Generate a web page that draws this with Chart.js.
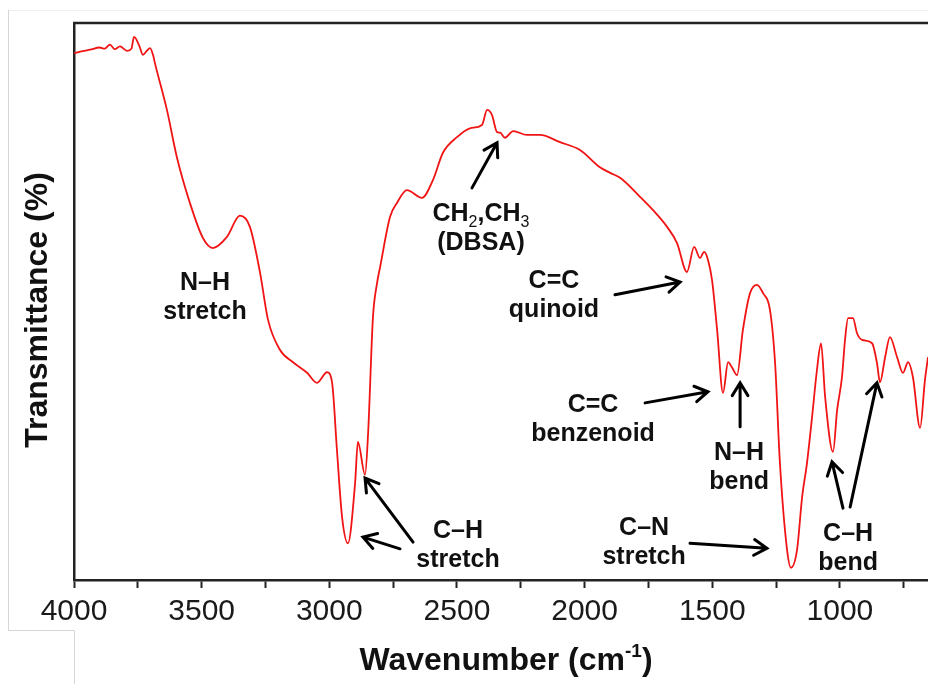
<!DOCTYPE html>
<html><head><meta charset="utf-8">
<script src="https://cdn.jsdelivr.net/npm/chart.js@4.4.1/dist/chart.umd.min.js"></script>
<style>html,body{margin:0;padding:0;background:#fff}#wrap{width:928px;height:684px;position:relative}</style>
</head><body><div id="wrap"><canvas id="c"></canvas></div>
<script>
// ---- data ----
const wavenumbers = [4000,3960,3937,3900,3880,3859,3840,3820,3792,3775,3765,3745,3730,3715,3702,3690,3683,3636,3597,3546,3495,3456,3401,3350,3311,3271,3240,3193,3142,3087,3048,3009,2989,2970,2950,2927,2899,2888,2860,2848,2829,2813,2801,2762,2735,2696,2637,2594,2555,2500,2449,2402,2382,2363,2343,2331,2312,2280,2226,2175,2096,2018,1940,1900,1861,1783,1732,1677,1638,1599,1571,1548,1532,1517,1501,1481,1458,1438,1423,1403,1380,1352,1325,1301,1274,1254,1235,1207,1192,1168,1148,1129,1109,1090,1074,1058,1027,1011,992,980,968,949,933,913,874,855,843,823,804,776,753,733,714,686,667,655];
const transmittance = [94.6,95.0,95.2,95.6,95.4,96.1,95.3,95.8,95.0,95.4,97.5,96.0,94.3,95.0,95.5,94.2,92.8,84.4,75.9,67.7,61.4,59.6,61.6,65.4,63.4,55.1,46.7,41.3,39.1,37.2,35.4,37.3,35.4,23.3,11.3,6.6,17.4,24.8,18.9,26.4,47.2,53.3,56.2,65.2,67.7,70.0,68.6,71.8,76.7,79.5,81.1,81.7,84.4,83.5,80.4,80.3,79.4,80.6,79.9,79.9,78.6,77.2,74.1,73.1,72.2,68.8,66.4,63.4,60.5,55.3,59.8,57.8,58.9,57.5,53.9,44.9,33.6,39.1,38.2,36.8,44.9,51.5,53.0,51.5,48.5,39.0,21.0,5.4,2.2,5.4,14.9,21.0,29.3,37.7,42.5,32.9,23.0,30.5,36.4,43.1,47.0,47.0,44.3,43.1,42.5,39.0,35.5,40.0,43.6,40.0,37.2,39.1,36.4,27.3,35.9,40.0];
const xTickValues = [4000,3750,3500,3250,3000,2750,2500,2250,2000,1750,1500,1250,1000,750];
const xLabelStep = 500;
const xRange = [655, 4000];
const yRange = [0, 100];
const xTitleMain = 'Wavenumber (cm';
const xTitleSup = '-1';
const xTitleEnd = ')';
const yTitle = 'Transmittance (%)';
// annotation labels (first-line baseline position in data units)
const labelLines = [['N–H','stretch'],['CH_2,CH_3','(DBSA)'],['C=C','quinoid'],['C=C','benzenoid'],['N–H','bend'],['C–N','stretch'],['C–H','bend'],['C–H','stretch']];
const labelWn = [3487,2406,2120,1967,1395,1767,968,2496];
const labelT = [52.1,64.5,52.4,30.2,21.5,8.1,7.0,7.5];
// annotation arrows (tail -> head, data units)
const arrowFromWn = [2441,1881,1763,1391,1587,988,960,2672,2723];
const arrowFromT = [70.4,51.2,31.8,27.5,6.6,12.9,13.1,6.8,5.6];
const arrowToWn = [2343,1626,1517,1391,1286,1031,855,2860,2868];
const arrowToT = [78.5,53.5,33.8,35.4,5.7,21.2,35.4,18.3,7.7];

const FONT = "'Liberation Sans', Arial, sans-serif";

const points = wavenumbers.map((w, i) => ({x: w, y: transmittance[i]}));

function drawRichCentered(ctx, text, cx, baseY, size) {
  const parts = text.split(/(_\d)/).filter(s => s.length);
  const segs = parts.map(p => p.startsWith('_') ? {t: p.slice(1), sub: true} : {t: p, sub: false});
  let total = 0;
  segs.forEach(s => { ctx.font = 'bold ' + (s.sub ? Math.round(size*0.62) : size) + 'px ' + FONT; s.w = ctx.measureText(s.t).width; total += s.w; });
  let x = cx - total/2;
  ctx.textAlign = 'left'; ctx.textBaseline = 'alphabetic';
  segs.forEach(s => {
    ctx.font = (s.sub ? 'normal ' : 'bold ') + (s.sub ? Math.round(size*0.62) : size) + 'px ' + FONT;
    ctx.fillText(s.t, x, baseY + (s.sub ? 6 : 0));
    x += s.w;
  });
}

function drawArrow(ctx, x1, y1, x2, y2) {
  const ang = Math.atan2(y2 - y1, x2 - x1);
  const hl = 15, ha = 0.55;
  ctx.beginPath();
  ctx.moveTo(x1, y1); ctx.lineTo(x2, y2);
  ctx.moveTo(x2 - hl*Math.cos(ang - ha), y2 - hl*Math.sin(ang - ha));
  ctx.lineTo(x2, y2);
  ctx.lineTo(x2 - hl*Math.cos(ang + ha), y2 - hl*Math.sin(ang + ha));
  ctx.stroke();
}

const decor = {
  id: 'decor',
  beforeDraw(chart) {
    const ctx = chart.ctx;
    ctx.save();
    ctx.fillStyle = '#fff'; ctx.fillRect(0, 0, chart.width, chart.height);
    ctx.strokeStyle = '#f0f0f0'; ctx.lineWidth = 1;
    ctx.beginPath(); ctx.moveTo(8, 10.5); ctx.lineTo(928, 10.5); ctx.stroke();
    ctx.strokeStyle = '#d6d6d6';
    ctx.beginPath(); ctx.moveTo(8.5, 10); ctx.lineTo(8.5, 630.5); ctx.lineTo(74.5, 630.5); ctx.lineTo(74.5, 684); ctx.stroke();
    ctx.restore();
  },
  afterDraw(chart) {
    const ctx = chart.ctx, a = chart.chartArea, xs = chart.scales.x, ys = chart.scales.y;
    ctx.save();
    // top frame line
    ctx.strokeStyle = '#222'; ctx.lineWidth = 2.5;
    ctx.beginPath(); ctx.moveTo(a.left - 1, a.top); ctx.lineTo(a.right, a.top); ctx.stroke();
    // x title with superscript
    ctx.fillStyle = '#111';
    ctx.textBaseline = 'alphabetic'; ctx.textAlign = 'left';
    ctx.font = 'bold 32px ' + FONT;
    const w1 = ctx.measureText(xTitleMain).width, w3 = ctx.measureText(xTitleEnd).width;
    ctx.font = 'bold 19px ' + FONT;
    const w2 = ctx.measureText(xTitleSup).width;
    let x0 = (a.left + a.right)/2 + 5 - (w1 + w2 + w3)/2;
    const by = 670;
    ctx.font = 'bold 32px ' + FONT; ctx.fillText(xTitleMain, x0, by);
    ctx.font = 'bold 19px ' + FONT; ctx.fillText(xTitleSup, x0 + w1, by - 13);
    ctx.font = 'bold 32px ' + FONT; ctx.fillText(xTitleEnd, x0 + w1 + w2, by);
    // y title
    ctx.save();
    ctx.translate(38, 310); ctx.rotate(-Math.PI/2);
    ctx.textAlign = 'center'; ctx.textBaseline = 'middle';
    ctx.font = 'bold 32px ' + FONT;
    ctx.fillText(yTitle, 0, 0);
    ctx.restore();
    // annotation labels
    ctx.fillStyle = '#111';
    labelLines.forEach((lines, i) => {
      const cx = xs.getPixelForValue(labelWn[i]);
      const by0 = ys.getPixelForValue(labelT[i]);
      lines.forEach((t, j) => drawRichCentered(ctx, t, cx, by0 + j*29, 25));
    });
    // arrows
    ctx.strokeStyle = '#000'; ctx.lineWidth = 3; ctx.lineCap = 'round'; ctx.lineJoin = 'miter';
    arrowFromWn.forEach((_, i) => {
      drawArrow(ctx, xs.getPixelForValue(arrowFromWn[i]), ys.getPixelForValue(arrowFromT[i]),
                     xs.getPixelForValue(arrowToWn[i]), ys.getPixelForValue(arrowToT[i]));
    });
    ctx.restore();
  }
};

new Chart(document.getElementById('c'), {
  type: 'line',
  data: { datasets: [{
    data: points,
    borderColor: '#f01414',
    borderWidth: 1.8,
    pointRadius: 0,
    cubicInterpolationMode: 'monotone',
    fill: false
  }]},
  options: {
    responsive: true, maintainAspectRatio: false, animation: false,
    layout: { padding: { left: 0, right: 0, top: 23, bottom: 0 } },
    plugins: { legend: { display: false }, tooltip: { enabled: false }, title: { display: false } },
    scales: {
      x: {
        type: 'linear', reverse: true, min: xRange[0], max: xRange[1],
        afterBuildTicks: s => { s.ticks = xTickValues.map(v => ({value: v})); },
        afterFit: s => { s.height = 104; },
        ticks: {
          autoSkip: false, maxRotation: 0, minRotation: 0, padding: 6,
          color: '#1a1a1a', font: { family: FONT, size: 30 },
          callback: v => (v % xLabelStep === 0 ? String(v) : '')
        },
        grid: { display: true, drawOnChartArea: false, drawTicks: true, tickLength: 8, tickColor: '#222', tickWidth: 2 },
        border: { display: true, color: '#222', width: 2.5 }
      },
      y: {
        min: yRange[0], max: yRange[1],
        afterFit: s => { s.width = 74; },
        ticks: { display: false },
        grid: { display: false },
        border: { display: true, color: '#222', width: 2.5 },
        title: { display: false }
      }
    }
  },
  plugins: [decor]
});
</script>
</body></html>
